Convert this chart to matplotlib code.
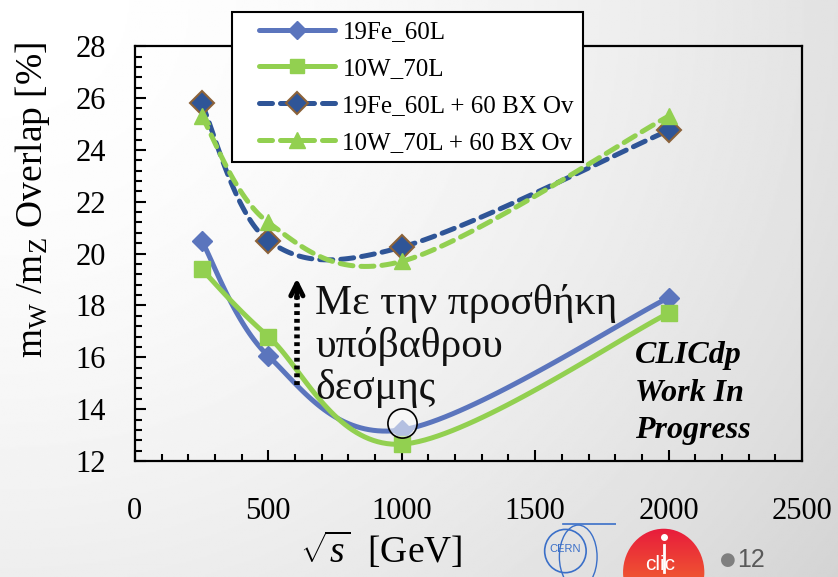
import matplotlib.pyplot as plt
import numpy as np
from matplotlib.patches import Circle, Ellipse
from matplotlib.lines import Line2D
from matplotlib.legend_handler import HandlerLine2D
from matplotlib.colors import LinearSegmentedColormap

plt.rcParams['font.family'] = ['Liberation Serif', 'DejaVu Serif']
plt.rcParams['mathtext.fontset'] = 'custom'
plt.rcParams['mathtext.rm'] = 'Liberation Serif'
plt.rcParams['mathtext.it'] = 'Liberation Serif:italic'

# sqrt(s) points and overlap values in %
energy = [250, 500, 1000, 2000]
fe_60l = [20.5, 16.05, 13.2, 18.3]
w_70l = [19.4, 16.8, 12.65, 17.7]
fe_60l_ov = [25.8, 20.5, 20.25, 24.75]
w_70l_ov = [25.3, 21.2, 19.7, 25.3]
labels = ['19Fe_60L', '10W_70L', '19Fe_60L + 60 BX Ov', '10W_70L + 60 BX Ov']


def smooth(x, y, n=40):
    # bezier segments, same idea as a spreadsheet "smoothed line"
    p = np.column_stack([x, y]).astype(float)
    ext = np.vstack([p[0], p, p[-1]])
    t = np.linspace(0, 1, n)[:, None]
    out = []
    for i in range(len(p) - 1):
        p0, p3 = p[i], p[i + 1]
        c1 = p0 + (ext[i + 2] - ext[i]) / 6
        c2 = p3 - (ext[i + 3] - ext[i + 1]) / 6
        seg = (1 - t) ** 3 * p0 + 3 * (1 - t) ** 2 * t * c1 + 3 * (1 - t) * t ** 2 * c2 + t ** 3 * p3
        out.append(seg if i == 0 else seg[1:])
    s = np.vstack(out)
    return s[:, 0], s[:, 1]


fig = plt.figure(figsize=(8.38, 5.77), dpi=100)

# slide background
bg = fig.add_axes([0, 0, 1, 1], zorder=-10)
yy, xx = np.mgrid[0:1:300j, 0:1:400j]
r = np.clip(np.hypot(xx * 1.0, yy * 0.75) / 1.25, 0, 1)
bg.imshow(1 - 0.17 * r ** 1.8, cmap='gray', vmin=0, vmax=1, aspect='auto',
          extent=[0, 1, 0, 1], origin='upper')
bg.axis('off')

ax = fig.add_axes([0.161, 0.201, 0.796, 0.719])
ax.set_facecolor('none')

styles = [
    dict(color='#5b75bd', ls='-', marker='D', ms=10, mfc='#5b75bd', mec='#5b75bd', mew=1),
    dict(color='#92d050', ls='-', marker='s', ms=11, mfc='#92d050', mec='#92d050', mew=1),
    dict(color='#2f5597', ls=(0, (2.6, 1.6)), marker='D', ms=12, mfc='#2f5597', mec='#8c6239', mew=1.5),
    dict(color='#92d050', ls=(0, (2.6, 1.6)), marker='^', ms=12, mfc='#92d050', mec='#92d050', mew=1),
]
handles = []
for vals, st, lab in zip([fe_60l, w_70l, fe_60l_ov, w_70l_ov], styles, labels):
    sx, sy = smooth(energy, vals)
    ax.plot(sx, sy, color=st['color'], ls=st['ls'], lw=3.6, dash_capstyle='round',
            solid_capstyle='round')
    ax.plot(energy, vals, ls='none', marker=st['marker'], ms=st['ms'],
            mfc=st['mfc'], mec=st['mec'], mew=st['mew'])
    handles.append(Line2D([], [], color=st['color'], ls=st['ls'], lw=3.6,
                          dash_capstyle='round', solid_capstyle='round',
                          marker=st['marker'], ms=st['ms'] - 1, mfc=st['mfc'],
                          mec=st['mec'], mew=st['mew'], label=lab))

ax.set_xlim(0, 2500)
ax.set_ylim(12, 28)
ax.set_xticks(np.arange(0, 2501, 500))
ax.set_xticks(np.arange(0, 2501, 100), minor=True)
ax.set_yticks(np.arange(12, 28.1, 2))
ax.set_yticks(np.arange(12, 28.01, 0.4), minor=True)
ax.tick_params(which='both', direction='in', width=1.5, labelsize=22, top=False, right=False)
ax.tick_params(which='major', length=8)
ax.tick_params(which='minor', length=5)
ax.tick_params(axis='x', pad=26)
ax.tick_params(axis='y', pad=21)
for s in ax.spines.values():
    s.set_linewidth(1.6)

ax.set_ylabel(r'm$_{\rm W}$ /m$_{\rm Z}$ Overlap [%]', fontsize=27)
ax.yaxis.set_label_coords(-0.125, 0.63)
ax.set_xlabel(r'$\sqrt{s}$  [GeV]', fontsize=27)
ax.xaxis.set_label_coords(0.369, -0.165)

leg = ax.legend(handles=handles, loc='upper left', bbox_to_anchor=(0.1454, 1.082),
                borderaxespad=0, fontsize=18, handlelength=3.77, handletextpad=0.3,
                labelspacing=0.57, borderpad=0.35, fancybox=False, framealpha=1,
                edgecolor='black', handler_map={Line2D: HandlerLine2D(xpad=0.72)})
leg.get_frame().set_linewidth(1.5)
leg.set_zorder(5)

# background-overlap arrow and note
ax.plot([607, 607], [14.95, 18.6], color='black', lw=4, ls=(0, (0.7, 0.7)))
ax.annotate('', xy=(607, 19.05), xytext=(607, 18.3),
            arrowprops=dict(arrowstyle='->', lw=3.5, color='black',
                            mutation_scale=22, shrinkA=0, shrinkB=0))
ax.text(675, 16.43, 'Με την προσθήκη\nυπόβαθρου\nδεσμης', fontsize=30,
        va='center', ha='left', linespacing=1.12, color='#111111')
ax.plot([1000], [13.45], marker='o', ms=21, mfc=(1, 1, 1, 0.55), mec='black', mew=1.2)

ax.text(1875, 14.62, 'CLICdp\nWork In\nProgress', fontsize=23, fontweight='bold',
        fontstyle='italic', ha='left', va='center', linespacing=1.37)

# footer logos and page number
cern = fig.add_axes([0.645, 0.0, 0.09, 0.1])
cern.set_xlim(0, 1)
cern.set_ylim(0, 1)
cern.axis('off')
cern.add_patch(Ellipse((0.33, 0.45), 0.55, 0.75, fill=False, ec='#3a6fc8', lw=1.2))
cern.add_patch(Ellipse((0.5, 0.35), 0.5, 1.1, fill=False, ec='#3a6fc8', lw=1.0))
cern.plot([0.3, 1.0], [0.92, 0.92], color='#3a6fc8', lw=1.2)
cern.text(0.33, 0.48, 'CERN', color='#3a6fc8', fontsize=8, ha='center', va='center',
          family='Liberation Sans')

clic = fig.add_axes([0.742, -0.07, 0.1, 0.156])
clic.set_xlim(-1, 1)
clic.set_ylim(-1, 1)
clic.axis('off')
grad = np.linspace(0, 1, 100)[:, None] * np.ones((1, 10))
img = clic.imshow(grad, extent=[-1, 1, -1, 1], aspect='auto', origin='upper',
                  cmap=LinearSegmentedColormap.from_list('clic', ['#e8193c', '#f47f2a']))
img.set_clip_path(Circle((0, 0), 0.97, transform=clic.transData))
clic.plot([0.0, 0.0], [0.0, 0.6], color='white', lw=2)
clic.plot([0.0], [0.78], 'o', color='white', ms=4)
fig.text(0.7875, 0.022, 'clic', color='white', fontsize=15, ha='center', va='center',
         family='Liberation Sans')

fig.text(0.869, 0.03, '●', color='#7f7f7f', fontsize=13, ha='center', va='center',
         family='DejaVu Sans')
fig.text(0.88, 0.03, '12', color='#595959', fontsize=18, ha='left', va='center',
         family='Liberation Sans')

fig.savefig('out.png', dpi=100)
